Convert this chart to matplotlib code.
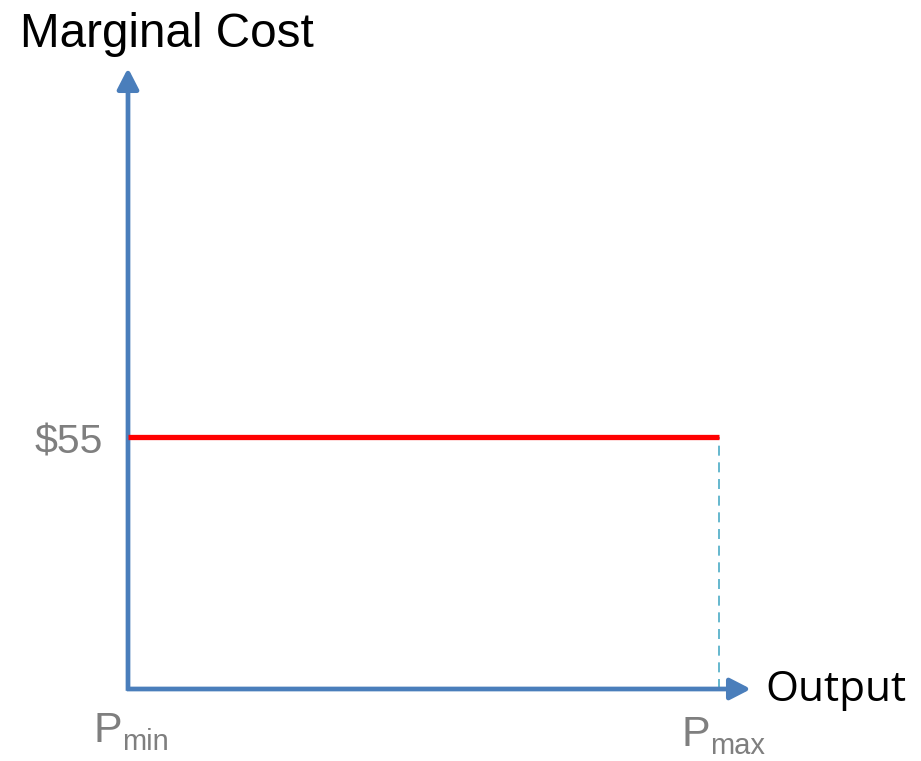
import matplotlib
matplotlib.use("Agg")
import matplotlib.pyplot as plt

# Chart values
output_range = [0, 100]          # P_min .. P_max (output, arbitrary units)
marginal_cost = [55, 55]         # flat marginal cost, $
cost_label = "$55"
x_labels = ["min", "max"]        # subscripts for P
y_title = "Marginal Cost"
x_title = "Output"

AXIS_BLUE = "#4A7EBB"
LINE_RED = "#FF0000"
DASH_CYAN = "#4BACC6"
GRAY = "#7F7F7F"

W, H, DPI = 921, 761, 100
fig = plt.figure(figsize=(W / DPI, H / DPI), dpi=DPI)
ax = fig.add_axes([0, 0, 1, 1])

# pixel geometry of the plot frame
x0_px, x1_px = 128, 719          # x = 0 and x = 100
y0_px, y55_px = 689, 437         # y = 0 and y = 55 (from top)
sx = (x1_px - x0_px) / (output_range[1] - output_range[0])
sy = (y0_px - y55_px) / marginal_cost[0]
ax.set_xlim(-x0_px / sx, (W - x0_px) / sx)
ax.set_ylim(-(H - y0_px) / sy, y0_px / sy)
ax.axis("off")

y_top = (y0_px - 68) / sy
x_end = (751 - x0_px) / sx

# axes with arrow heads
arrow_kw = dict(arrowstyle="-|>,head_length=0.7,head_width=0.36",
                color=AXIS_BLUE, lw=3.4, shrinkA=0, shrinkB=0,
                mutation_scale=18, capstyle="butt")
ax.annotate("", xy=(0, y_top), xytext=(0, -0.4), arrowprops=arrow_kw)
ax.annotate("", xy=(x_end, 0), xytext=(-0.2, 0), arrowprops=arrow_kw)

# marginal cost line
ax.plot(output_range, marginal_cost, color=LINE_RED, lw=3.8,
        solid_capstyle="butt", zorder=3)

# dashed drop line at P_max
ax.plot([output_range[1], output_range[1]], [0, marginal_cost[1]],
        color=DASH_CYAN, lw=1.2, dashes=(6, 4), zorder=2)

# labels
ax.annotate(y_title, xy=(0, 0), xycoords="figure pixels",
            xytext=(20, H - 47), textcoords="figure pixels",
            fontsize=34.3, family="Liberation Sans", color="black",
            ha="left", va="baseline")
ax.annotate(x_title, xy=(x_end, 0), xytext=(10, -1), textcoords="offset points",
            fontsize=30.5, family="Open Sans", color="black",
            ha="left", va="center")
ax.annotate(cost_label, xy=(0, marginal_cost[0]), xytext=(-18, -4),
            textcoords="offset points", fontsize=29.5,
            family="Liberation Sans", color=GRAY, ha="right", va="center")

for xv, sub, dx, dy in [(output_range[0], x_labels[0], -25, -38),
                        (output_range[1], x_labels[1], -27, -41)]:
    ax.annotate("P", xy=(xv, 0), xytext=(dx, dy), textcoords="offset points",
                fontsize=31, family="Liberation Sans", color=GRAY,
                ha="left", va="baseline")
    ax.annotate(sub, xy=(xv, 0), xytext=(dx + 20.5, dy - 6),
                textcoords="offset points", fontsize=21,
                family="Liberation Sans", color=GRAY,
                ha="left", va="baseline")

fig.savefig("out.png", dpi=DPI)
